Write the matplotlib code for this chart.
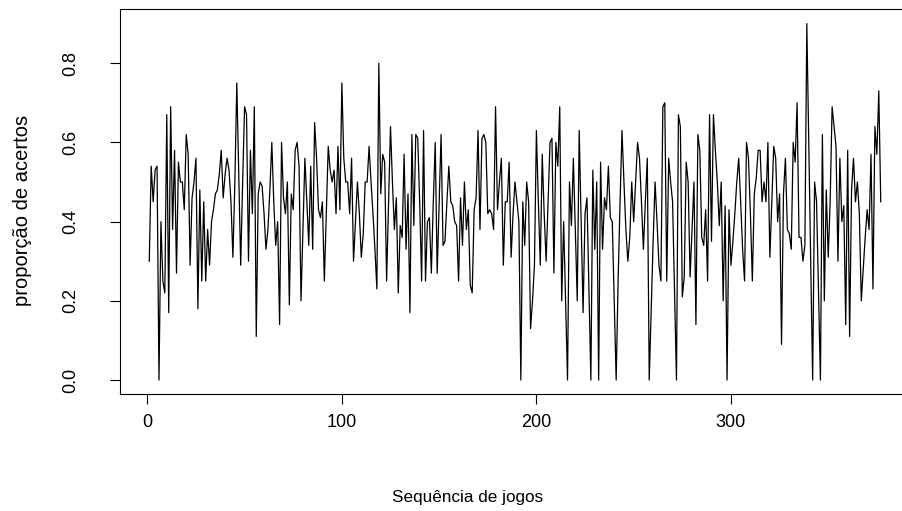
import numpy as np
import matplotlib
matplotlib.use("Agg")
import matplotlib.pyplot as plt

# proporção de acertos em cada jogo, na ordem em que foram disputados
acertos = [
    0.30, 0.54, 0.45, 0.53, 0.54, 0.00, 0.40, 0.25, 0.22, 0.67,
    0.17, 0.69, 0.38, 0.58, 0.27, 0.55, 0.50, 0.50, 0.43, 0.62,
    0.57, 0.29, 0.46, 0.50, 0.56, 0.18, 0.48, 0.25, 0.45, 0.25,
    0.38, 0.29, 0.40, 0.43, 0.47, 0.48, 0.52, 0.58, 0.46, 0.52,
    0.56, 0.53, 0.45, 0.31, 0.50, 0.75, 0.52, 0.29, 0.50, 0.69,
    0.67, 0.30, 0.58, 0.42, 0.69, 0.11, 0.47, 0.50, 0.49, 0.42,
    0.33, 0.38, 0.48, 0.60, 0.45, 0.34, 0.40, 0.14, 0.60, 0.46,
    0.42, 0.50, 0.19, 0.47, 0.43, 0.58, 0.60, 0.54, 0.20, 0.38,
    0.56, 0.45, 0.34, 0.54, 0.33, 0.65, 0.56, 0.43, 0.41, 0.45,
    0.25, 0.42, 0.59, 0.53, 0.50, 0.53, 0.42, 0.59, 0.43, 0.75,
    0.56, 0.50, 0.50, 0.42, 0.56, 0.30, 0.40, 0.50, 0.42, 0.31,
    0.37, 0.50, 0.50, 0.59, 0.50, 0.42, 0.33, 0.23, 0.80, 0.47,
    0.57, 0.55, 0.25, 0.45, 0.64, 0.50, 0.38, 0.46, 0.22, 0.39,
    0.36, 0.57, 0.33, 0.47, 0.17, 0.62, 0.39, 0.62, 0.61, 0.45,
    0.25, 0.63, 0.25, 0.40, 0.41, 0.27, 0.45, 0.60, 0.27, 0.45,
    0.62, 0.34, 0.35, 0.45, 0.54, 0.45, 0.44, 0.40, 0.39, 0.25,
    0.46, 0.34, 0.50, 0.38, 0.43, 0.24, 0.22, 0.43, 0.46, 0.63,
    0.38, 0.61, 0.62, 0.60, 0.42, 0.43, 0.42, 0.38, 0.69, 0.43,
    0.50, 0.56, 0.29, 0.45, 0.45, 0.55, 0.31, 0.42, 0.50, 0.45,
    0.40, 0.00, 0.45, 0.34, 0.50, 0.45, 0.13, 0.20, 0.29, 0.63,
    0.45, 0.29, 0.57, 0.42, 0.30, 0.45, 0.60, 0.61, 0.27, 0.60,
    0.54, 0.69, 0.20, 0.40, 0.20, 0.00, 0.50, 0.39, 0.56, 0.38,
    0.20, 0.63, 0.40, 0.17, 0.42, 0.46, 0.23, 0.00, 0.53, 0.33,
    0.50, 0.00, 0.55, 0.33, 0.46, 0.43, 0.54, 0.41, 0.40, 0.20,
    0.00, 0.25, 0.45, 0.63, 0.50, 0.38, 0.30, 0.36, 0.50, 0.40,
    0.50, 0.60, 0.56, 0.45, 0.33, 0.45, 0.56, 0.00, 0.18, 0.35,
    0.50, 0.40, 0.29, 0.25, 0.69, 0.70, 0.25, 0.56, 0.50, 0.45,
    0.22, 0.00, 0.67, 0.64, 0.21, 0.26, 0.55, 0.50, 0.26, 0.38,
    0.50, 0.14, 0.62, 0.58, 0.36, 0.34, 0.43, 0.25, 0.67, 0.35,
    0.67, 0.58, 0.50, 0.39, 0.50, 0.20, 0.44, 0.00, 0.43, 0.29,
    0.35, 0.42, 0.50, 0.56, 0.45, 0.33, 0.25, 0.60, 0.56, 0.42,
    0.25, 0.47, 0.51, 0.58, 0.58, 0.45, 0.50, 0.45, 0.60, 0.31,
    0.45, 0.59, 0.56, 0.40, 0.47, 0.09, 0.47, 0.56, 0.38, 0.37,
    0.33, 0.60, 0.55, 0.70, 0.36, 0.36, 0.30, 0.34, 0.90, 0.60,
    0.30, 0.00, 0.50, 0.45, 0.22, 0.00, 0.62, 0.20, 0.48, 0.31,
    0.45, 0.69, 0.64, 0.59, 0.30, 0.56, 0.40, 0.44, 0.14, 0.58,
    0.11, 0.48, 0.56, 0.45, 0.50, 0.42, 0.20, 0.28, 0.36, 0.43,
    0.38, 0.57, 0.23, 0.64, 0.57, 0.73, 0.45,
]
xticks = [0, 100, 200, 300]
yticks = [0.0, 0.2, 0.4, 0.6, 0.8]

plt.rcParams['font.family'] = ['Liberation Sans', 'DejaVu Sans']

W, H = 903, 511
fig = plt.figure(figsize=(W / 100, H / 100), dpi=100)

jogo = np.arange(1, len(acertos) + 1)
y = np.array(acertos)

# limites no estilo do R: 4% de folga em cada lado
n = len(jogo)
dx = 0.04 * (n - 1)
dy = 0.04 * (y.max() - y.min())
xlim = (1 - dx, n + dx)
ylim = (y.min() - dy, y.max() + dy)

# caixa do gráfico em pixels (a borda direita fica fora da figura)
left, right, top, bottom = 120, 910, 9.3, 394.3
ax = fig.add_axes([left / W, 1 - bottom / H, (right - left) / W, (bottom - top) / H])

ax.plot(jogo, y, color='black', lw=0.9)
ax.set_xlim(*xlim)
ax.set_ylim(*ylim)

ax.set_xticks(xticks)
ax.set_xticklabels([str(t) for t in xticks])
ax.set_yticks(yticks)
ax.set_yticklabels([f"{t:.1f}" for t in yticks], rotation=90, va='center')

ax.tick_params(axis='both', direction='out', length=7, width=0.8,
               labelsize=13, color='black')
ax.tick_params(axis='x', pad=7)
ax.tick_params(axis='y', pad=22)
for s in ax.spines.values():
    s.set_linewidth(0.8)

fig.text(468 / W, 1 - 497 / H, 'Sequência de jogos', ha='center', va='center', fontsize=12.3)
fig.text(23 / W, 1 - 210 / H, 'proporção de acertos', ha='center', va='center',
         rotation=90, fontsize=14.5)

fig.savefig('out.png', dpi=100)
